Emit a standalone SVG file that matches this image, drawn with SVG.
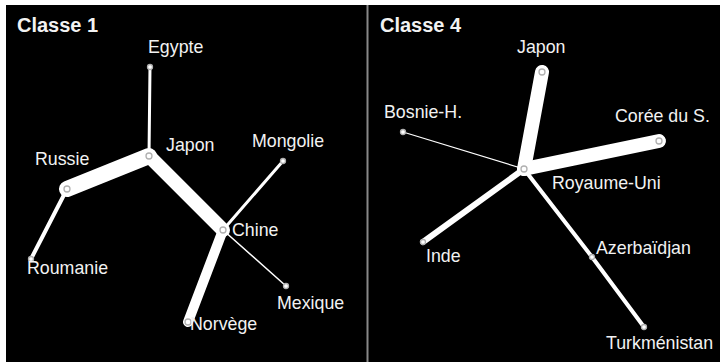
<svg xmlns="http://www.w3.org/2000/svg" width="720" height="362" viewBox="0 0 720 362">
<style>
.lbl{font-family:"Liberation Sans",Arial,sans-serif;font-size:17.8px;fill:#f2f2f2}
.ttl{font-family:"Liberation Sans",Arial,sans-serif;font-size:20px;font-weight:bold;fill:#f2f2f2}
.e{stroke:#fff;stroke-linecap:round;fill:none}
.n{fill:#fff;stroke:#b0b0b0;stroke-width:1.3}
</style>
<rect x="0" y="0" width="720" height="362" fill="#fff"/>
<rect x="6" y="5" width="714" height="357" fill="#000"/>
<rect x="366.5" y="5" width="2" height="357" fill="#888"/>
<text class="ttl" x="17" y="32">Classe 1</text>
<text class="ttl" x="380" y="32">Classe 4</text>
<g id="connectors">
<line class="e" x1="149" y1="156" x2="150" y2="67" stroke-width="3"/>
<line class="e" x1="149" y1="156" x2="67" y2="189" stroke-width="16"/>
<line class="e" x1="149" y1="156" x2="223" y2="230" stroke-width="14"/>
<line class="e" x1="67" y1="189" x2="31" y2="259" stroke-width="4"/>
<line class="e" x1="223" y1="230" x2="283" y2="161" stroke-width="3"/>
<line class="e" x1="223" y1="230" x2="286" y2="286" stroke-width="1.5"/>
<line class="e" x1="223" y1="230" x2="188" y2="322" stroke-width="10"/>
<line class="e" x1="524" y1="169" x2="542" y2="72" stroke-width="14"/>
<line class="e" x1="524" y1="169" x2="659" y2="141" stroke-width="14"/>
<line class="e" x1="524" y1="169" x2="403" y2="132" stroke-width="1.2"/>
<line class="e" x1="524" y1="169" x2="423" y2="242" stroke-width="6"/>
<line class="e" x1="524" y1="169" x2="592" y2="257" stroke-width="4"/>
<line class="e" x1="592" y1="257" x2="644" y2="327" stroke-width="4"/>
</g>
<g id="egypte"><circle class="n" cx="150" cy="67" r="2.5"/><text class="lbl" x="148" y="53">Egypte</text></g>
<g id="japon1"><circle class="n" cx="149" cy="156" r="3"/><text class="lbl" x="166" y="151">Japon</text></g>
<g id="russie"><circle class="n" cx="67" cy="189" r="3"/><text class="lbl" x="35" y="165">Russie</text></g>
<g id="roumanie"><circle class="n" cx="31" cy="259" r="2.5"/><text class="lbl" x="27" y="274">Roumanie</text></g>
<g id="chine"><circle class="n" cx="223" cy="230" r="3"/><text class="lbl" x="232" y="236">Chine</text></g>
<g id="mongolie"><circle class="n" cx="283" cy="161" r="2.5"/><text class="lbl" x="252" y="147">Mongolie</text></g>
<g id="mexique"><circle class="n" cx="286" cy="286" r="2.5"/><text class="lbl" x="277" y="309">Mexique</text></g>
<g id="norvege"><circle class="n" cx="188" cy="322" r="3"/><text class="lbl" x="190" y="330">Norvège</text></g>
<g id="japon4"><circle class="n" cx="542" cy="72" r="3"/><text class="lbl" x="517" y="53">Japon</text></g>
<g id="royaume-uni"><circle class="n" cx="524" cy="169" r="3"/><text class="lbl" x="552" y="189">Royaume-Uni</text></g>
<g id="bosnie"><circle class="n" cx="403" cy="132" r="2.5"/><text class="lbl" x="384" y="118">Bosnie-H.</text></g>
<g id="coree"><circle class="n" cx="659" cy="141" r="3"/><text class="lbl" x="615" y="122">Corée du S.</text></g>
<g id="inde"><circle class="n" cx="423" cy="242" r="2.5"/><text class="lbl" x="426" y="262">Inde</text></g>
<g id="azerbaidjan"><circle class="n" cx="592" cy="257" r="2.5"/><text class="lbl" x="596" y="254">Azerbaïdjan</text></g>
<g id="turkmenistan"><circle class="n" cx="644" cy="327" r="2.5"/><text class="lbl" x="606" y="349">Turkménistan</text></g>
</svg>
